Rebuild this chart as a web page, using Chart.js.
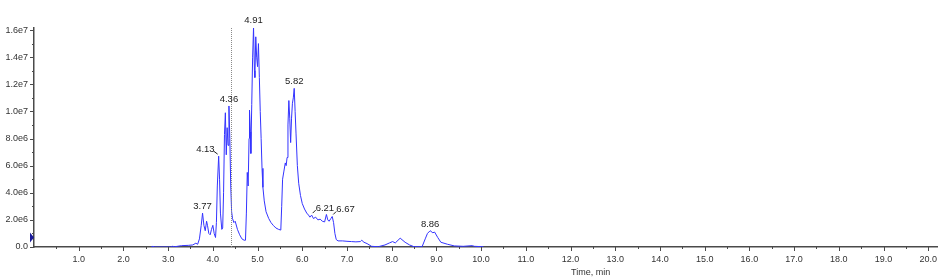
<!DOCTYPE html>
<html lang="en">
<head>
    <meta charset="UTF-8">
    <title>TIC chromatogram</title>
    <script src="https://cdn.jsdelivr.net/npm/chart.js"></script>
    <style>
        body {
            margin: 0;
            background-color: #ffffff;
            font-family: "Liberation Sans", Arial, sans-serif;
        }
        #chart {
            display: block;
        }
    </style>
</head>
<body>
    <canvas id="chart" width="944" height="280"></canvas>

    <script>
        // retention time (min)
        const times = [
            2.62, 2.66, 2.70, 3.05, 3.10, 3.15, 3.30, 3.45, 3.55, 3.62,
            3.66, 3.70, 3.74, 3.77, 3.80, 3.83, 3.86, 3.88, 3.91, 3.94,
            3.97, 4.00, 4.03, 4.06, 4.08, 4.10, 4.13, 4.15, 4.17, 4.20,
            4.22, 4.24, 4.26, 4.28, 4.30, 4.32, 4.34, 4.36, 4.38, 4.40,
            4.42, 4.44, 4.47, 4.50, 4.55, 4.60, 4.65, 4.70, 4.73, 4.75,
            4.77, 4.79, 4.81, 4.82, 4.84, 4.85, 4.87, 4.89, 4.91, 4.93,
            4.94, 4.96, 4.98, 5.00, 5.02, 5.04, 5.06, 5.08, 5.10, 5.12,
            5.15, 5.19, 5.25, 5.30, 5.35, 5.41, 5.47, 5.52, 5.54, 5.56,
            5.59, 5.62, 5.64, 5.66, 5.68, 5.70, 5.72, 5.74, 5.76, 5.78,
            5.80, 5.82, 5.84, 5.86, 5.89, 5.92, 5.96, 6.00, 6.05, 6.10,
            6.14, 6.17, 6.21, 6.25, 6.30, 6.35, 6.40, 6.45, 6.50, 6.54,
            6.57, 6.60, 6.64, 6.67, 6.70, 6.73, 6.76, 6.80, 6.90, 7.00,
            7.10, 7.20, 7.30, 7.33, 7.38, 7.45, 7.55, 7.70, 7.85, 7.95,
            8.02, 8.08, 8.19, 8.30, 8.40, 8.50, 8.68, 8.75, 8.80, 8.86,
            8.92, 8.96, 9.03, 9.10, 9.25, 9.40, 9.60, 9.80, 9.85, 10.05
        ];

        // intensity (cps)
        const intensity = [
            0, 5e4, 0, 0, 5e4, 2e4, 1e5, 1.2e5, 1.5e5, 2.8e5,
            2e5, 6e5, 1.6e6, 2.5e6, 1.6e6, 1.2e6, 1.9e6, 1.6e6, 1.0e6, 9e5,
            1.3e6, 1.6e6, 1.0e6, 7e5, 1.8e6, 4.5e6, 6.7e6, 5.0e6, 2.5e6, 1.3e6,
            1.4e6, 4.0e6, 8.3e6, 9.9e6, 6.8e6, 8.8e6, 7.5e6, 1.04e7, 8.0e6, 4.5e6,
            2.6e6, 2.1e6, 1.8e6, 1.9e6, 1.3e6, 9e5, 6e5, 5e5, 5e5, 2.5e6,
            5.5e6, 4.5e6, 8.0e6, 1.01e7, 8.5e6, 6.9e6, 1.05e7, 1.4e7, 1.62e7, 1.3e7,
            1.25e7, 1.55e7, 1.4e7, 1.33e7, 1.5e7, 1.25e7, 1.0e7, 8.0e6, 5.8e6, 4.4e6,
            3.4e6, 2.6e6, 2.1e6, 1.8e6, 1.6e6, 1.4e6, 1.3e6, 1.25e6, 3.0e6, 5.0e6,
            5.6e6, 6.2e6, 6.0e6, 6.6e6, 9.0e6, 1.08e7, 9.5e6, 7.7e6, 9.5e6, 1.06e7,
            1.1e7, 1.17e7, 1.0e7, 8.4e6, 6.0e6, 4.7e6, 3.8e6, 3.2e6, 2.8e6, 2.5e6,
            2.35e6, 2.2e6, 2.35e6, 2.1e6, 2.2e6, 2.0e6, 2.05e6, 1.9e6, 1.85e6, 2.4e6,
            2.0e6, 1.9e6, 2.1e6, 2.25e6, 1.8e6, 1.0e6, 5.5e5, 4.5e5, 4.5e5, 4.2e5,
            4.0e5, 3.8e5, 4.0e5, 5.0e5, 3.5e5, 2.5e5, 5e4, 2e4, 1.5e5, 3.0e5,
            4.0e5, 3.0e5, 6.5e5, 3.5e5, 1.5e5, 2e4, 2e4, 6e5, 1.0e6, 1.2e6,
            1.05e6, 1.1e6, 7e5, 3.5e5, 2e5, 8e4, 5e4, 1e5, 5e4, 2e4
        ];

        // tick positions: every 0.5 min on x (labelled on whole minutes), every 1e6 on y (labelled every 2e6)
        const xTickValues = [];
        for (let i = 1; i <= 40; i++) xTickValues.push(i / 2);
        const yTickValues = [];
        for (let i = 0; i <= 16; i++) yTickValues.push(i * 1e6);

        // labelled peaks and the marker line
        const peakTimes = [3.77, 4.13, 4.36, 4.91, 5.82, 6.21, 6.67, 8.86];
        const peakLabels = ['3.77', '4.13', '4.36', '4.91', '5.82', '6.21', '6.67', '8.86'];
        const markerTime = 4.40;
        const startMarkerLevel = 7e5;

        const axisColor = '#4a4a4a';
        const tickFont = { family: 'Liberation Sans', size: 9 };

        // draws tick marks (major / minor), labels of peaks, marker line
        const chromPlugin = {
            id: 'chrom',
            afterDraw(chart) {
                const ctx = chart.ctx;
                const xs = chart.scales.x;
                const ys = chart.scales.y;
                const area = chart.chartArea;
                ctx.save();

                // tick marks
                ctx.strokeStyle = axisColor;
                ctx.lineWidth = 1;
                xTickValues.forEach(v => {
                    const major = Math.abs(v - Math.round(v)) < 1e-6;
                    const px = Math.round(xs.getPixelForValue(v)) + 0.5;
                    ctx.beginPath();
                    ctx.moveTo(px, area.bottom);
                    ctx.lineTo(px, area.bottom + (major ? 4 : 2));
                    ctx.stroke();
                });
                yTickValues.forEach(v => {
                    const major = Math.round(v / 1e6) % 2 === 0;
                    const py = Math.round(ys.getPixelForValue(v)) + 0.5;
                    ctx.beginPath();
                    ctx.moveTo(area.left, py);
                    ctx.lineTo(area.left - (major ? 4 : 2), py);
                    ctx.stroke();
                });

                // dotted marker line
                const mx = Math.round(xs.getPixelForValue(markerTime)) + 0.5;
                ctx.strokeStyle = '#8a8a8a';
                ctx.setLineDash([1, 1]);
                ctx.beginPath();
                ctx.moveTo(mx, area.top);
                ctx.lineTo(mx, area.bottom);
                ctx.stroke();
                ctx.setLineDash([]);

                // small triangle at the start of the y axis
                const ty = ys.getPixelForValue(startMarkerLevel);
                ctx.fillStyle = '#1a1a9a';
                ctx.beginPath();
                ctx.moveTo(area.left - 4, ty - 5);
                ctx.lineTo(area.left, ty);
                ctx.lineTo(area.left - 4, ty + 5);
                ctx.closePath();
                ctx.fill();

                // peak labels
                ctx.font = '9.5px "Liberation Sans", Arial, sans-serif';
                ctx.fillStyle = '#222';
                ctx.strokeStyle = '#222';
                peakTimes.forEach((pt, i) => {
                    let best = 0;
                    times.forEach((t, j) => {
                        if (Math.abs(t - pt) < Math.abs(times[best] - pt)) best = j;
                    });
                    const px = xs.getPixelForValue(times[best]);
                    const py = ys.getPixelForValue(intensity[best]);
                    const side = pt === 4.13 ? 'l' : (pt === 6.21 || pt === 6.67 ? 'r' : 'c');
                    if (side === 'c') {
                        ctx.textAlign = 'center';
                        ctx.textBaseline = 'bottom';
                        ctx.fillText(peakLabels[i], px, py - 2);
                    } else if (side === 'l') {
                        ctx.beginPath();
                        ctx.moveTo(px - 1, py - 2);
                        ctx.lineTo(px - 5, py - 5);
                        ctx.stroke();
                        ctx.textAlign = 'right';
                        ctx.textBaseline = 'middle';
                        ctx.fillText(peakLabels[i], px - 4, py - 7);
                    } else {
                        ctx.beginPath();
                        ctx.moveTo(px + 1, py - 2);
                        ctx.lineTo(px + 4, py - 5);
                        ctx.stroke();
                        ctx.textAlign = 'left';
                        ctx.textBaseline = 'middle';
                        ctx.fillText(peakLabels[i], px + 4, py - 7);
                    }
                });

                // axis title (sits right of centre in the original)
                ctx.font = '9px "Liberation Sans", Arial, sans-serif';
                ctx.fillStyle = '#333';
                ctx.textAlign = 'center';
                ctx.textBaseline = 'middle';
                ctx.fillText('Time, min', xs.getPixelForValue(12.45), 273);

                ctx.restore();
            }
        };

        const points = times.map((t, i) => ({ x: t, y: intensity[i] }));

        const chart = new Chart(document.getElementById('chart'), {
            type: 'line',
            data: {
                datasets: [{
                    data: points,
                    borderColor: '#3434ff',
                    borderWidth: 1,
                    pointRadius: 0,
                    tension: 0,
                    fill: false
                }]
            },
            options: {
                responsive: false,
                animation: false,
                devicePixelRatio: 1,
                layout: {
                    padding: { top: 28, right: 2, left: 0, bottom: 0 }
                },
                scales: {
                    x: {
                        type: 'linear',
                        min: 0,
                        max: 20.2,
                        afterFit: s => { s.height = 33; },
                        afterBuildTicks: s => { s.ticks = xTickValues.map(v => ({ value: v })); },
                        grid: { display: false, drawTicks: false },
                        border: { display: true, color: axisColor, width: 1.5 },
                        ticks: {
                            autoSkip: false,
                            maxRotation: 0,
                            padding: 7,
                            color: '#333',
                            font: tickFont,
                            callback: v => Math.abs(v - Math.round(v)) < 1e-6 ? v.toFixed(1) : ''
                        }
                    },
                    y: {
                        min: 0,
                        max: 1.615e7,
                        afterFit: s => { s.width = 34; },
                        afterBuildTicks: s => { s.ticks = yTickValues.map(v => ({ value: v })); },
                        grid: { display: false, drawTicks: false },
                        border: { display: true, color: axisColor, width: 1.5 },
                        ticks: {
                            autoSkip: false,
                            padding: 6,
                            color: '#333',
                            font: tickFont,
                            callback: v => {
                                if (Math.round(v / 1e6) % 2 !== 0) return '';
                                if (v === 0) return '0.0';
                                return v.toExponential(1).replace('e+', 'e');
                            }
                        }
                    }
                },
                plugins: {
                    legend: { display: false },
                    tooltip: { enabled: false }
                }
            },
            plugins: [chromPlugin]
        });
    </script>
</body>
</html>
